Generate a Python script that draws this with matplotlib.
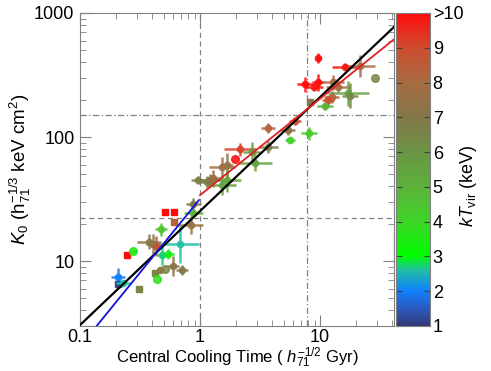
import numpy as np
import matplotlib
matplotlib.use('Agg')
import matplotlib.pyplot as plt
from matplotlib.colors import LinearSegmentedColormap, Normalize

plt.rcParams['font.family'] = ['Liberation Sans', 'DejaVu Sans']
plt.rcParams['mathtext.fontset'] = 'custom'
plt.rcParams['mathtext.rm'] = 'Liberation Sans'
plt.rcParams['mathtext.it'] = 'Liberation Sans:italic'

# ---------------------------------- data ---------------------------------- #
# central cooling time (Gyr), K0 (keV cm^2), kT_vir (keV)
tcool = [0.209, 0.209, 0.230, 0.312, 0.245, 0.278, 0.470, 0.515, 0.605, 0.607,
         0.376, 0.408, 0.430, 0.480, 0.544, 0.681, 0.422, 0.464, 0.511, 0.436,
         0.592, 0.704, 0.880, 0.880, 0.837, 1.14, 3.67, 5.38, 5.62, 6.19,
         2.15, 1.96, 2.87, 3.71, 2.70, 1.52, 1.69, 1.21, 1.29, 1.67,
         1.52, 0.97, 9.68, 16.2, 21.5, 28.7, 7.5, 9.68, 8.97, 12.9,
         14.2, 12.5, 11.7, 8.25, 11.0, 17.2, 17.8, 8.1]
k0 = [7.47, 6.49, 6.61, 5.92, 11.2, 12.0, 18.0, 25.0, 25.0, 20.8,
      14.3, 13.7, 13.2, 11.2, 11.5, 13.7, 8.05, 8.46, 8.61, 7.24,
      9.17, 8.46, 28.8, 24.5, 19.5, 43.6, 119, 114, 94.6, 135,
      79.6, 66.1, 62.1, 83.5, 76.1, 57.6, 59.4, 45, 46.4, 45,
      41, 45, 432, 369, 374, 297, 266, 276, 254, 276,
      254, 211, 199, 193, 178, 225, 215, 107]
ktvir = [2.0, 1.2, 2.6, 6.5, 10, 3.5, 4.5, 10, 10, 8.3,
         7.3, 6.8, 8.8, 2.7, 3.3, 2.6, 6.5, 7.3, 6.5, 3.7,
         7.2, 7.0, 7.0, 4.8, 7.6, 6.8, 8.3, 7.2, 4.0, 8.8,
         9.2, 10, 5.5, 6.8, 5.8, 7.8, 7.5, 7.2, 7.6, 5.3,
         5.5, 6.8, 10, 9.8, 8.0, 6.5, 10, 10, 9.8, 8.0,
         7.8, 8.3, 9.0, 7.3, 5.0, 5.5, 6.5, 4.3]
# half widths of error bars in dex
xerr_dex = [0.058, 0, 0.06, 0, 0, 0.02, 0.05, 0, 0, 0,
            0.10, 0.06, 0.05, 0.04, 0.05, 0.16, 0, 0.02, 0, 0,
            0.05, 0.05, 0.06, 0.08, 0.10, 0.06, 0.06, 0.06, 0.04, 0.05,
            0.13, 0, 0.14, 0.08, 0.07, 0.11, 0.05, 0.08, 0.06, 0.12,
            0.12, 0.06, 0.02, 0.11, 0.125, 0, 0.07, 0.05, 0.07, 0.09,
            0.10, 0.06, 0.05, 0, 0.07, 0.17, 0.07, 0.07]
yerr_dex = [0.073, 0, 0.02, 0, 0, 0.01, 0.05, 0, 0, 0,
            0.06, 0.08, 0.08, 0.08, 0.04, 0.15, 0, 0.02, 0, 0,
            0.08, 0.04, 0.05, 0.03, 0.07, 0.05, 0.04, 0.04, 0.02, 0.03,
            0.05, 0, 0.07, 0.05, 0.08, 0.08, 0.10, 0.05, 0.07, 0.10,
            0.08, 0.03, 0.04, 0.03, 0.09, 0, 0.06, 0.07, 0.03, 0.06,
            0.04, 0.05, 0.04, 0, 0.03, 0.10, 0.10, 0.05]
# 's' square, 'o' plain circle, 'e' point with error bars
kind = ['e', 's', 'e', 's', 's', 'o', 'e', 's', 's', 's',
        'e', 'e', 'e', 'e', 'e', 'e', 's', 'e', 'o', 'o',
        'e', 'e', 'e', 'e', 'e', 'e', 'e', 'e', 'e', 'e',
        'e', 'o', 'e', 'e', 'e', 'e', 'e', 'e', 'e', 'e',
        'e', 'e', 'e', 'e', 'e', 'o', 'e', 'e', 'e', 'e',
        'e', 'e', 'e', 's', 'e', 'e', 'e', 'e']

# power-law fits: K0 = norm * t^slope over [tmin, tmax]
fit_norm = [25.3, 34.0, 31.8]
fit_slope = [0.918, 0.777, 1.19]
fit_range = [(0.1, 41.4), (1.0, 41.4), (0.138, 0.98)]
fit_color = ['black', '#e02020', '#1010e0']
fit_lw = [1.6, 1.3, 1.3]

# colour bar
cb_stops = [1, 1.5, 2, 2.6, 3, 4, 5, 6, 7, 8, 9, 10]
cb_colors = ['#343a78', '#2a5cc0', '#1080ff', '#20c0a0', '#00ff00', '#40d428',
             '#5cb23c', '#6c9446', '#837848', '#a86c42', '#d04c30', '#ff0a0a']
cb_ticks = [1, 2, 3, 4, 5, 6, 7, 8, 9, 10]
cb_labels = ['1', '2', '3', '4', '5', '6', '7', '8', '9', '>10']

# ---------------------------------- plot ---------------------------------- #
cmap = LinearSegmentedColormap.from_list(
    'ktv', [((v - 1) / 9.0, c) for v, c in zip(cb_stops, cb_colors)])
norm = Normalize(1, 10)

fig = plt.figure(figsize=(4.91, 3.71), dpi=100)
ax = fig.add_axes([0.163, 0.1213, 0.6395, 0.8437])
cax = fig.add_axes([0.8065, 0.1213, 0.0692, 0.8437])

gray = '#808080'
ax.axvline(1.0, color=gray, ls=(0, (4, 3)), lw=0.9, zorder=1)
ax.axvline(7.8, color=gray, ls=(0, (5, 2, 1, 2)), lw=0.9, zorder=1)
ax.axhline(22.2, color=gray, ls=(0, (4, 3)), lw=0.9, zorder=1)
ax.axhline(150, color=gray, ls=(0, (5, 2, 1, 2)), lw=0.9, zorder=1)

for x, y, t, xd, yd, k in zip(tcool, k0, ktvir, xerr_dex, yerr_dex, kind):
    c = cmap(norm(t))
    if k == 's':
        ax.plot(x, y, marker='s', ms=3.8, color=c, mec=c, ls='none', zorder=3)
        continue
    xe = [[x - x * 10 ** -xd], [x * 10 ** xd - x]]
    ye = [[y - y * 10 ** -yd], [y * 10 ** yd - y]]
    ms = 5.5 if k == 'o' else 4.5
    ax.errorbar(x, y, xerr=xe, yerr=ye, fmt='o', ms=ms, color=c, mec=c,
                ecolor=c, elinewidth=1.8, capsize=0, alpha=0.85, zorder=3)

for nrm, slp, rng, col, lw in zip(fit_norm, fit_slope, fit_range, fit_color, fit_lw):
    xs = np.array(rng)
    ax.plot(xs, nrm * xs ** slp, color=col, lw=lw, zorder=4)

ax.set_xscale('log')
ax.set_yscale('log')
ax.set_xlim(0.1, 41.4)
ax.set_ylim(3.0, 1000)
ax.set_xticks([0.1, 1, 10])
ax.set_xticklabels(['0.1', '1', '10'])
ax.set_yticks([10, 100, 1000])
ax.set_yticklabels(['10', '100', '1000'])
ax.tick_params(which='both', direction='in', top=True, right=True,
               color=gray, labelsize=13)
ax.tick_params(which='major', length=8, pad=4)
ax.tick_params(which='minor', length=4)
ax.tick_params(axis='x', which='major', pad=2)
for s in ax.spines.values():
    s.set_color(gray)

ax.set_xlabel('Central Cooling Time ( $h_{71}^{-1/2}$ Gyr)', fontsize=12, labelpad=0)
ax.set_ylabel('$K_0$ (h$_{71}^{-1/3}$ keV cm$^2$)', fontsize=13.5, labelpad=1)

# colour bar
grad = np.linspace(1, 10, 256).reshape(-1, 1)
cax.imshow(grad, aspect='auto', cmap=cmap, norm=norm, origin='lower',
           extent=[0, 1, 1, 10])
cax.set_xticks([])
cax.set_ylim(1, 10)
cax.yaxis.tick_right()
cax.set_yticks(cb_ticks)
cax.set_yticklabels(cb_labels)
cax.tick_params(axis='y', direction='in', length=4, color='#404040',
                labelsize=13, pad=2, left=True, right=True)
for s in cax.spines.values():
    s.set_color(gray)
fig.text(0.955, 0.5, '$kT_{\\rm vir}$ (keV)', fontsize=13, rotation=90,
         ha='center', va='center')

fig.savefig('out.png', dpi=100)
